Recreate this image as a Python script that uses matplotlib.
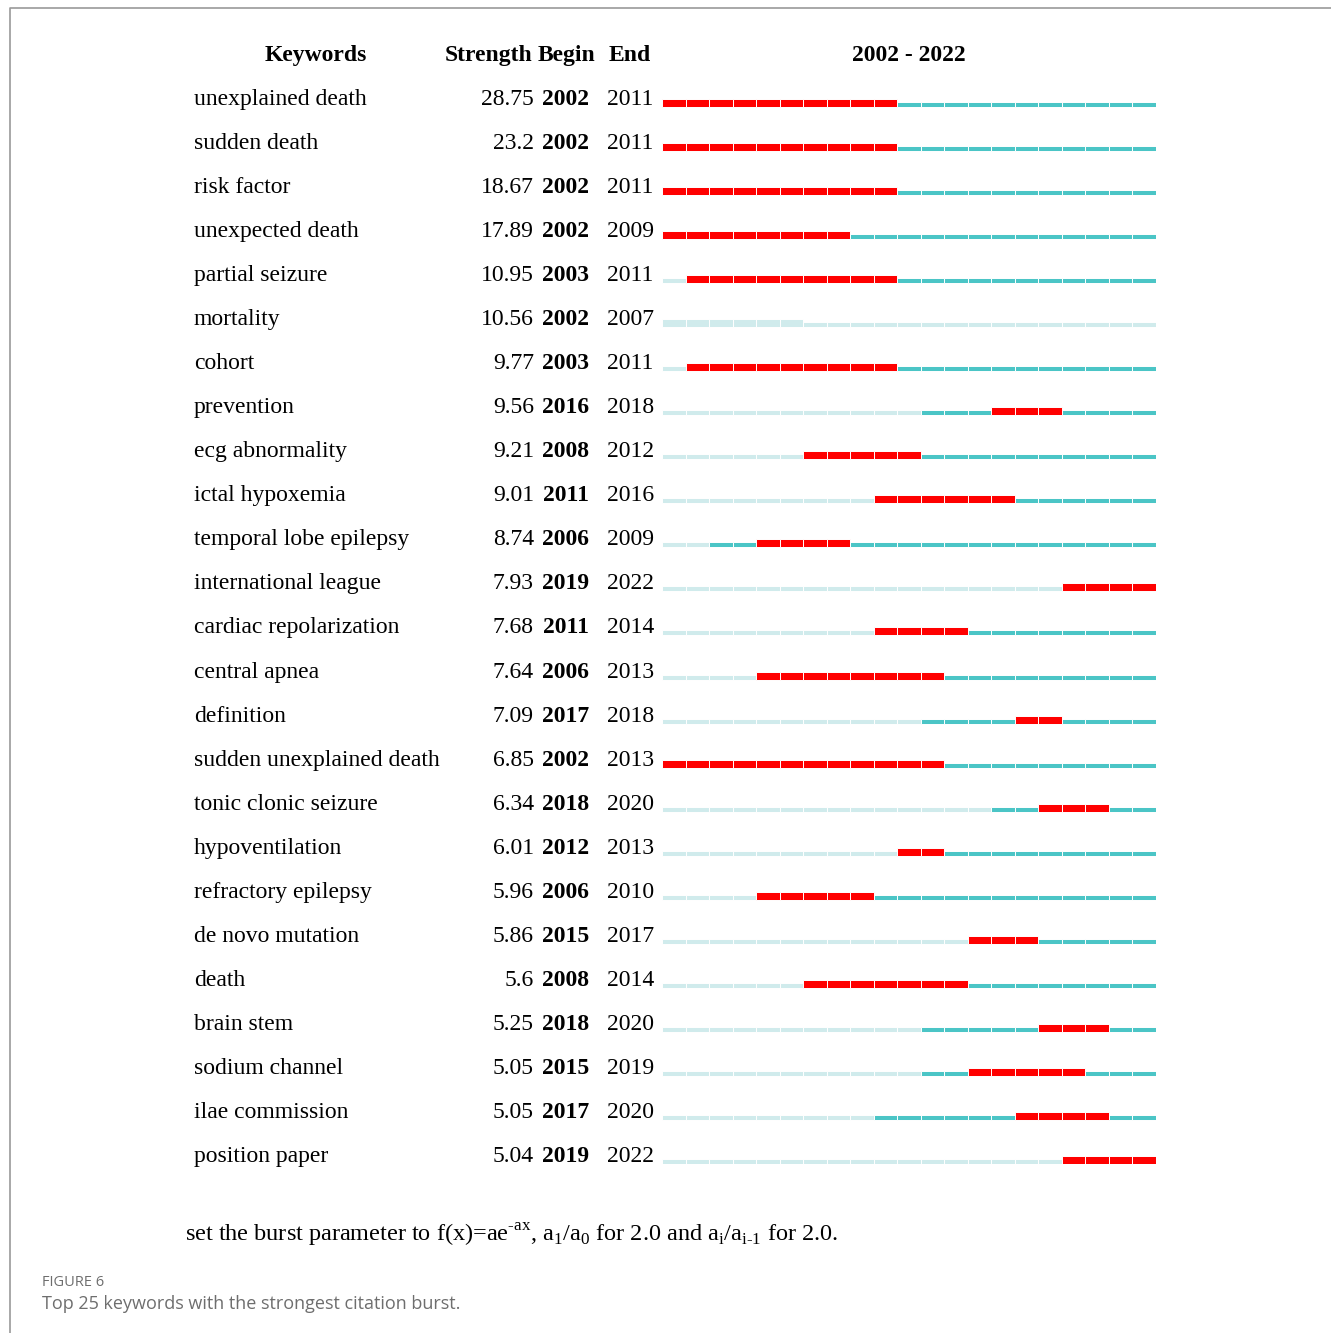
import numpy as np
import matplotlib.pyplot as plt
import matplotlib.transforms as mtransforms
from matplotlib.lines import Line2D

# keywords with their burst info
keywords = ['unexplained death', 'sudden death', 'risk factor', 'unexpected death',
            'partial seizure', 'mortality', 'cohort', 'prevention', 'ecg abnormality',
            'ictal hypoxemia', 'temporal lobe epilepsy', 'international league',
            'cardiac repolarization', 'central apnea', 'definition',
            'sudden unexplained death', 'tonic clonic seizure', 'hypoventilation',
            'refractory epilepsy', 'de novo mutation', 'death', 'brain stem',
            'sodium channel', 'ilae commission', 'position paper']
strength = [28.75, 23.2, 18.67, 17.89, 10.95, 10.56, 9.77, 9.56, 9.21, 9.01, 8.74,
            7.93, 7.68, 7.64, 7.09, 6.85, 6.34, 6.01, 5.96, 5.86, 5.6, 5.25, 5.05,
            5.05, 5.04]
begin = [2002, 2002, 2002, 2002, 2003, 2002, 2003, 2016, 2008, 2011, 2006, 2019,
         2011, 2006, 2017, 2002, 2018, 2012, 2006, 2015, 2008, 2018, 2015, 2017, 2019]
end = [2011, 2011, 2011, 2009, 2011, 2007, 2011, 2018, 2012, 2016, 2009, 2022,
       2014, 2013, 2018, 2013, 2020, 2013, 2010, 2017, 2014, 2020, 2019, 2020, 2022]
# year the keyword first shows up (teal from here on); 2023 = never in range
first_year = [2002, 2002, 2002, 2002, 2003, 2023, 2003, 2013, 2008, 2011, 2004,
              2019, 2011, 2006, 2013, 2002, 2016, 2012, 2006, 2015, 2008, 2013,
              2013, 2011, 2019]
years = list(range(2002, 2023))

RED = '#FF0000'
TEAL = '#4BC5C6'
PALE = '#D0EBEC'

W, H = 1331, 1333
plt.rcParams['font.family'] = ['Liberation Serif', 'DejaVu Serif']
plt.rcParams['mathtext.fontset'] = 'custom'
plt.rcParams['mathtext.rm'] = 'Liberation Serif'

fig = plt.figure(figsize=(W / 100, H / 100), dpi=100)

# bar area in pixels
x0, x1 = 662, 1156
row0, row_h = 107, 44.04
n = len(keywords)
top_px = row0 - row_h
bot_px = row0 + (n - 1) * row_h
ax = fig.add_axes([x0 / W, 1 - bot_px / H, (x1 - x0) / W, (bot_px - top_px) / H])
ax.set_xlim(years[0], years[-1] + 1)
ax.set_ylim(n - 1, -1)
ax.axis('off')

thick = 8 / row_h
thin = 5 / row_h
for i in range(n):
    for yr in years:
        burst = begin[i] <= yr <= end[i]
        if burst:
            c = RED if yr >= first_year[i] else PALE
            h = thick
        else:
            c = TEAL if yr >= first_year[i] else PALE
            h = thin
        ax.barh(i - h, 1, height=h, left=yr, align='edge', color=c,
                edgecolor='white', linewidth=0.7)

# text columns: x in pixels, y in rows
trans = mtransforms.blended_transform_factory(
    mtransforms.Affine2D().scale(1 / W, 1.0) + fig.transFigure, ax.transData)

fs = 17
dy = -2 / row_h
for i in range(n):
    yb = i + dy
    ax.text(194, yb, keywords[i], transform=trans, fontsize=fs, va='baseline', ha='left')
    ax.text(534, yb, f'{strength[i]:g}', transform=trans, fontsize=fs, va='baseline', ha='right')
    ax.text(589, yb, str(begin[i]), transform=trans, fontsize=fs, va='baseline', ha='right',
            fontweight='bold')
    ax.text(607, yb, str(end[i]), transform=trans, fontsize=fs, va='baseline', ha='left')

yh = -1 + dy
ax.text(316, yh, 'Keywords', transform=trans, fontsize=fs, va='baseline', ha='center', fontweight='bold')
ax.text(489, yh, 'Strength', transform=trans, fontsize=fs, va='baseline', ha='center', fontweight='bold')
ax.text(567, yh, 'Begin', transform=trans, fontsize=fs, va='baseline', ha='center', fontweight='bold')
ax.text(630, yh, 'End', transform=trans, fontsize=fs, va='baseline', ha='center', fontweight='bold')
ax.text(909, yh, f'{years[0]} - {years[-1]}', transform=trans, fontsize=fs, va='baseline',
        ha='center', fontweight='bold')

# footnote under the table
note = ('set the burst parameter to f(x)=ae$^{\\mathregular{\u2010ax}}$, '
        'a$_{\\mathregular{1}}$/a$_{\\mathregular{0}}$ for 2.0 and '
        'a$_{\\mathregular{i}}$/a$_{\\mathregular{i\u20101}}$ for 2.0.')
fig.text(185 / W, 1 - 1242 / H, note, fontsize=17.5, va='baseline', ha='left')

# caption
fig.text(42 / W, 1 - 1286 / H, 'FIGURE 6', fontsize=10.5, va='baseline', ha='left',
         color='#6e6e6e', family=['Open Sans', 'DejaVu Sans'])
fig.text(42 / W, 1 - 1309 / H, 'Top 25 keywords with the strongest citation burst.',
         fontsize=13, va='baseline', ha='left', color='#6e6e6e',
         family=['Open Sans', 'DejaVu Sans'])

# page frame (top and left edges)
fig.add_artist(Line2D([10 / W, 10 / W, 1.0], [0.0, 1 - 8 / H, 1 - 8 / H],
                      transform=fig.transFigure, color='#9a9a9a', linewidth=1.2))

fig.savefig('out.png', dpi=100)
